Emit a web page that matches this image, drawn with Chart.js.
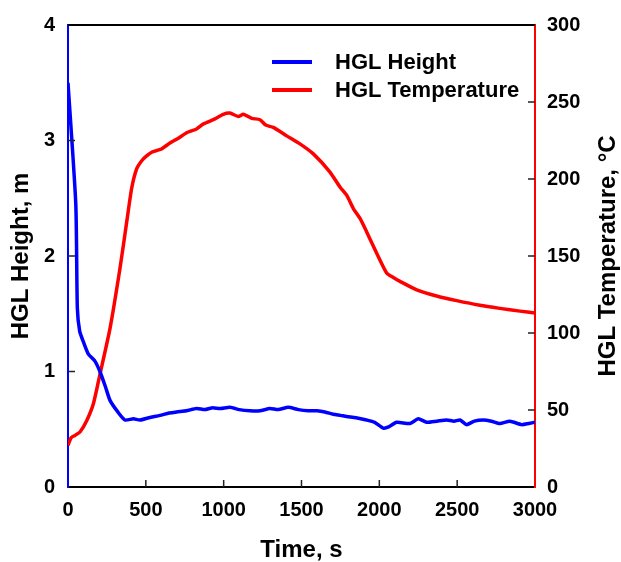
<!DOCTYPE html>
<html>
<head>
<meta charset="utf-8">
<script src="https://cdn.jsdelivr.net/npm/chart.js@4/dist/chart.umd.min.js"></script>
<style>
  body { margin: 0; background: #fff; }
  #wrap { width: 621px; height: 562px; }
</style>
</head>
<body>
<div id="wrap"><canvas id="graph" width="621" height="562"></canvas></div>
<script>
// hot gas layer height (m) over time (s)
const heightTime = [0, 50, 60, 75, 98, 131, 173, 205, 240, 270, 320, 366, 420, 462, 520, 591, 650, 698, 760, 826, 880, 923, 980, 1040, 1100, 1169, 1233, 1297, 1350, 1415, 1480, 1543, 1600, 1650, 1704, 1750, 1790, 1850, 1918, 1970, 2025, 2060, 2111, 2197, 2250, 2304, 2370, 2432, 2480, 2518, 2560, 2610, 2667, 2720, 2774, 2839, 2914, 2960, 3000];
const heightVals = [3.5, 2.45, 1.55, 1.35, 1.26, 1.15, 1.09, 1.0, 0.87, 0.75, 0.65, 0.58, 0.59, 0.58, 0.6, 0.62, 0.64, 0.65, 0.66, 0.68, 0.67, 0.685, 0.68, 0.69, 0.67, 0.66, 0.66, 0.68, 0.67, 0.69, 0.67, 0.66, 0.66, 0.65, 0.63, 0.62, 0.61, 0.6, 0.58, 0.56, 0.51, 0.52, 0.56, 0.55, 0.59, 0.56, 0.57, 0.58, 0.57, 0.58, 0.54, 0.57, 0.58, 0.57, 0.55, 0.57, 0.54, 0.55, 0.56];

// hot gas layer temperature (°C) over time (s)
const tempTime = [0, 20, 45, 77, 120, 163, 205, 270, 334, 377, 409, 441, 475, 505, 540, 570, 601, 655, 709, 762, 826, 869, 944, 997, 1040, 1094, 1126, 1180, 1233, 1270, 1319, 1405, 1490, 1576, 1683, 1747, 1790, 1833, 1876, 1918, 1983, 2047, 2090, 2133, 2240, 2368, 2497, 2646, 2774, 2903, 3000];
const tempVals = [27, 32, 33.5, 35.7, 43, 54, 73, 103, 142, 172, 194, 206.6, 212, 215, 217.5, 218.5, 219.5, 223.4, 226.5, 230, 232.5, 235.7, 239, 242, 242.8, 240.6, 242, 239.4, 238.5, 235, 233.5, 228, 222.8, 216.3, 204.5, 194.8, 189.5, 180.8, 174.4, 165.8, 151.8, 139, 136, 133.5, 128, 124, 121, 118, 116, 114.2, 113];

const xTicks = [0, 500, 1000, 1500, 2000, 2500, 3000];
const yTicks = [0, 1, 2, 3, 4];
const y2Ticks = [0, 50, 100, 150, 200, 250, 300];

const FONT = 'Liberation Sans, Arial, sans-serif';

function toPoints(xs, ys) {
    return xs.map(function (x, i) { return { x: x, y: ys[i] }; });
}

function fixedTicks(list) {
    return function (scale) {
        scale.ticks = list.map(function (v) { return { value: v }; });
    };
}

function plainLabel(value) {
    return String(value);
}

// inward tick marks, top frame line, legend and right-hand title
const decorations = {
    id: 'decorations',
    afterDraw: function (chart) {
        const ctx = chart.ctx;
        const a = chart.chartArea;
        const s = chart.scales;
        ctx.save();
        ctx.strokeStyle = '#222';
        ctx.lineWidth = 1.5;
        ctx.beginPath();
        xTicks.forEach(function (v) {
            if (v === 0 || v === 3000) return;
            const px = s.x.getPixelForValue(v);
            ctx.moveTo(px, a.bottom);
            ctx.lineTo(px, a.bottom - 7);
        });
        yTicks.forEach(function (v) {
            if (v === 0 || v === 4) return;
            const py = s.y.getPixelForValue(v);
            ctx.moveTo(a.left, py);
            ctx.lineTo(a.left + 7, py);
        });
        y2Ticks.forEach(function (v) {
            if (v === 0 || v === 300) return;
            const py = s.y2.getPixelForValue(v);
            ctx.moveTo(a.right, py);
            ctx.lineTo(a.right - 7, py);
        });
        ctx.stroke();

        ctx.strokeStyle = '#000';
        ctx.lineWidth = 2;
        ctx.beginPath();
        ctx.moveTo(a.left, a.top);
        ctx.lineTo(a.right, a.top);
        ctx.stroke();

        // legend
        ctx.font = 'bold 22px ' + FONT;
        ctx.textBaseline = 'middle';
        ctx.textAlign = 'left';
        chart.data.datasets.forEach(function (ds, i) {
            const y = a.top + 37 + i * 28;
            ctx.strokeStyle = ds.borderColor;
            ctx.lineWidth = 4;
            ctx.beginPath();
            ctx.moveTo(a.left + 204, y);
            ctx.lineTo(a.left + 244, y);
            ctx.stroke();
            ctx.fillStyle = '#000';
            ctx.fillText(ds.label, a.left + 267, y + 1);
        });

        // right axis title reads bottom to top
        ctx.font = 'bold 24px ' + FONT;
        ctx.textAlign = 'center';
        ctx.translate(608, (a.top + a.bottom) / 2);
        ctx.rotate(-Math.PI / 2);
        ctx.fillText('HGL Temperature, °C', 0, 0);
        ctx.restore();
    }
};

const ctx = document.getElementById('graph').getContext('2d');

const data = {
    datasets: [
        {
            label: 'HGL Height',
            data: toPoints(heightTime, heightVals),
            borderColor: '#0000ff',
            borderWidth: 3.5,
            pointRadius: 0,
            tension: 0.2,
            yAxisID: 'y'
        },
        {
            label: 'HGL Temperature',
            data: toPoints(tempTime, tempVals),
            borderColor: '#ff0000',
            borderWidth: 3.5,
            pointRadius: 0,
            tension: 0.2,
            yAxisID: 'y2'
        }
    ]
};

const tickFont = { family: FONT, size: 20, weight: 'bold' };
const titleFont = { family: FONT, size: 24, weight: 'bold', lineHeight: 1 };

const config = {
    type: 'line',
    data: data,
    options: {
        responsive: false,
        animation: false,
        layout: { padding: { top: 22, left: 0, right: 0, bottom: 0 } },
        plugins: {
            legend: { display: false },
            tooltip: { enabled: false }
        },
        scales: {
            x: {
                type: 'linear',
                min: 0,
                max: 3000,
                afterBuildTicks: fixedTicks(xTicks),
                afterFit: function (scale) { scale.height = 75; },
                grid: { display: false, drawTicks: false },
                border: { display: true, color: '#000', width: 2 },
                ticks: { color: '#000', font: tickFont, padding: 11, maxRotation: 0, callback: plainLabel },
                title: { display: true, text: 'Time, s', color: '#000', font: titleFont, padding: 0 }
            },
            y: {
                type: 'linear',
                position: 'left',
                min: 0,
                max: 4,
                afterBuildTicks: fixedTicks(yTicks),
                afterFit: function (scale) { scale.width = 68; },
                grid: { display: false, drawTicks: false },
                border: { display: true, color: '#0000ff', width: 2 },
                ticks: { color: '#000', font: tickFont, padding: 13, callback: plainLabel },
                title: { display: true, text: 'HGL Height, m', color: '#000', font: titleFont, padding: { top: 9, bottom: 0 } }
            },
            y2: {
                type: 'linear',
                position: 'right',
                min: 0,
                max: 300,
                afterBuildTicks: fixedTicks(y2Ticks),
                afterFit: function (scale) { scale.width = 86; },
                grid: { display: false, drawTicks: false },
                border: { display: true, color: '#ff0000', width: 2 },
                ticks: { color: '#000', font: tickFont, padding: 12, callback: plainLabel }
            }
        }
    },
    plugins: [decorations]
};

let graph = new Chart(ctx, config);
</script>
</body>
</html>
